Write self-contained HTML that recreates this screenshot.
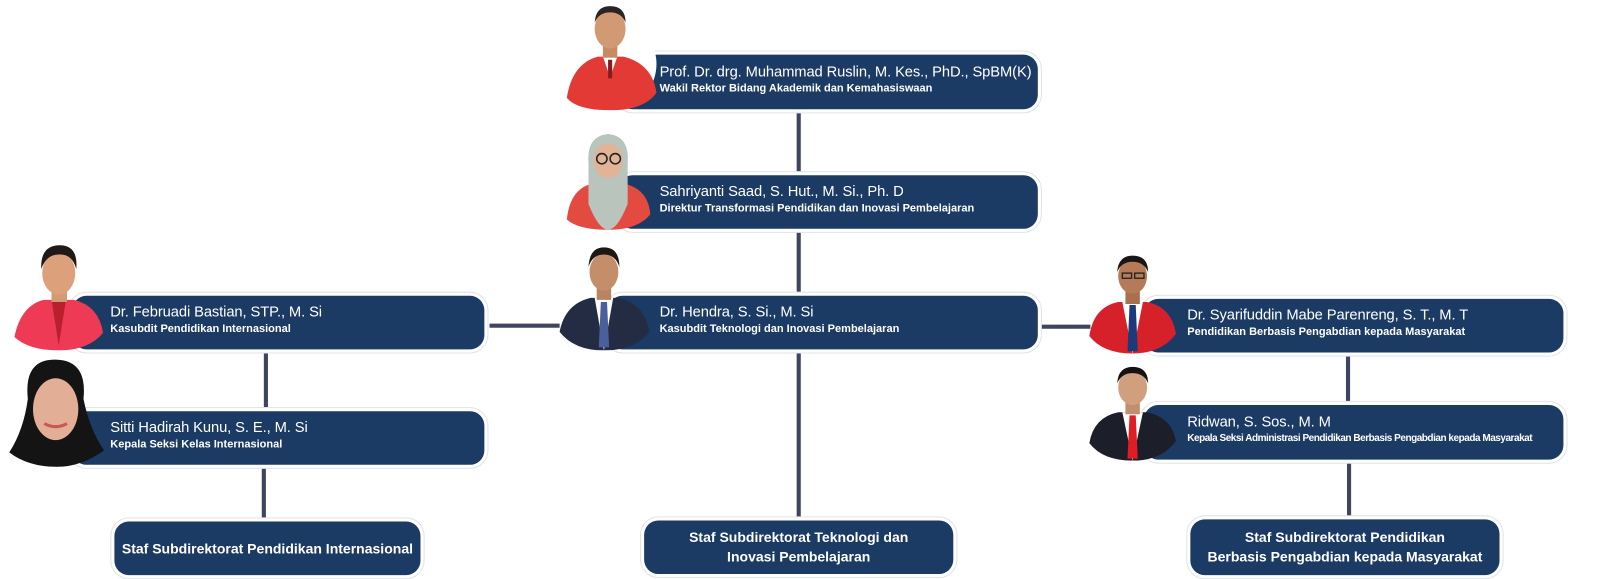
<!DOCTYPE html>
<html><head><meta charset="utf-8"><style>
html,body{margin:0;padding:0;background:#fff;width:1616px;height:579px;overflow:hidden}
#w{position:absolute;left:0;top:0;width:1568px;height:562px;transform:scale(1.0306);transform-origin:0 0;font-family:"Liberation Sans",sans-serif}
.b{position:absolute;background:#1b3a64;border-radius:14px;box-shadow:0 0 0 3px #fff,0 0 0 4px #dfe3ea;color:#fff}
.n{position:absolute;font-size:14.3px;white-space:nowrap;letter-spacing:-0.1px}
.r{position:absolute;font-size:10.7px;font-weight:bold;white-space:nowrap;letter-spacing:0px}
.s{display:flex;align-items:center;justify-content:center;text-align:center;font-weight:bold;font-size:13.6px;line-height:19px}
.l{position:absolute;background:#3f4460}
svg.p{position:absolute}
</style></head><body><div id="w">
<div class="l" style="left:773px;top:106px;width:4px;height:64px"></div>
<div class="l" style="left:773px;top:222px;width:4px;height:65px"></div>
<div class="l" style="left:773px;top:339px;width:4px;height:164px"></div>
<div class="l" style="left:475px;top:314px;width:68px;height:4px"></div>
<div class="l" style="left:1008px;top:315px;width:50px;height:4px"></div>
<div class="l" style="left:256px;top:341px;width:4px;height:54px"></div>
<div class="l" style="left:254px;top:453px;width:4px;height:52px"></div>
<div class="l" style="left:1306px;top:345px;width:4px;height:46px"></div>
<div class="l" style="left:1307px;top:449px;width:4px;height:54px"></div>

<div class="b" style="left:600px;top:53px;width:407px;height:53px"><div class="n" style="left:40px;top:9px">Prof. Dr. drg. Muhammad Ruslin, M. Kes., PhD., SpBM(K)</div><div class="r" style="left:40px;top:27px">Wakil Rektor Bidang Akademik dan Kemahasiswaan</div></div>
<div class="b" style="left:600px;top:170px;width:407px;height:52px"><div class="n" style="left:40px;top:8px">Sahriyanti Saad, S. Hut., M. Si., Ph. D</div><div class="r" style="left:40px;top:26px">Direktur Transformasi Pendidikan dan Inovasi Pembelajaran</div></div>
<div class="b" style="left:590px;top:287px;width:417px;height:52px"><div class="n" style="left:50px;top:8px">Dr. Hendra, S. Si., M. Si</div><div class="r" style="left:50px;top:26px">Kasubdit Teknologi dan Inovasi Pembelajaran</div></div>
<div class="b" style="left:70px;top:287px;width:400px;height:52px"><div class="n" style="left:37px;top:8px">Dr. Februadi Bastian, STP., M. Si</div><div class="r" style="left:37px;top:26px">Kasubdit Pendidikan Internasional</div></div>
<div class="b" style="left:70px;top:399px;width:400px;height:52px"><div class="n" style="left:37px;top:8px">Sitti Hadirah Kunu, S. E., M. Si</div><div class="r" style="left:37px;top:26px">Kepala Seksi Kelas Internasional</div></div>
<div class="b" style="left:1110px;top:290px;width:407px;height:52px"><div class="n" style="left:42px;top:8px">Dr. Syarifuddin Mabe Parenreng, S. T., M. T</div><div class="r" style="left:42px;top:26px">Pendidikan Berbasis Pengabdian kepada Masyarakat</div></div>
<div class="b" style="left:1110px;top:393px;width:407px;height:53px"><div class="n" style="left:42px;top:9px">Ridwan, S. Sos., M. M</div><div class="r" style="left:42px;top:27px;font-size:9.7px;letter-spacing:-0.45px">Kepala Seksi Administrasi Pendidikan Berbasis Pengabdian kepada Masyarakat</div></div>
<div class="b s" style="left:111px;top:506px;width:297px;height:52px">Staf Subdirektorat Pendidikan Internasional</div>
<div class="b s" style="left:625px;top:505px;width:300px;height:52px">Staf Subdirektorat Teknologi dan<br>Inovasi Pembelajaran</div>
<div class="b s" style="left:1155px;top:504px;width:300px;height:54px">Staf Subdirektorat Pendidikan<br>Berbasis Pengabdian kepada Masyarakat</div>

<svg class="p" style="left:545px;top:0px" width="95" height="107" viewBox="0 0 95 107">
<circle cx="47" cy="62" r="45" fill="#fff"/>
<path d="M5 95 Q10 62 35 55 L60 55 Q88 62 92 90 Q80 107 47 107 Q15 107 5 95Z" fill="#e33a36"/>
<path d="M40 55 L47 75 L54 55Z" fill="#fff"/><rect x="45" y="58" width="4" height="18" fill="#8a1a22"/>
<rect x="40" y="42" width="14" height="14" fill="#c88a65"/>
<ellipse cx="47" cy="28" rx="15" ry="19" fill="#d29a74"/><path d="M32 22 Q33 6 47 6 Q62 6 62 22 Q58 12 47 12 Q36 12 32 22Z" fill="#2a2422"/>
</svg>
<svg class="p" style="left:547px;top:128px" width="86" height="95" viewBox="0 0 86 95">
<path d="M3 85 Q6 55 28 50 L58 50 Q82 55 84 80 Q72 95 43 95 Q14 95 3 85Z" fill="#e34a40"/>
<path d="M24 30 Q22 4 43 2 Q64 4 62 30 L62 70 Q52 95 43 95 Q34 95 24 70Z" fill="#b8c4bc"/>
<ellipse cx="43" cy="28" rx="14" ry="17" fill="#e2b396"/>
<circle cx="37" cy="26" r="5" fill="none" stroke="#222" stroke-width="1.5"/><circle cx="50" cy="26" r="5" fill="none" stroke="#222" stroke-width="1.5"/>
</svg>
<svg class="p" style="left:540px;top:237px" width="93" height="103" viewBox="0 0 93 103">
<path d="M3 85 Q8 58 33 52 L60 52 Q86 58 90 85 Q76 103 46 103 Q17 103 3 85Z" fill="#242c44"/>
<path d="M37 52 L46 103 L55 52Z" fill="#fff"/><path d="M43 56 L49 56 L51 100 L41 100Z" fill="#4b5f9a"/>
<rect x="39" y="40" width="14" height="14" fill="#b98460"/>
<ellipse cx="46" cy="27" rx="14" ry="18" fill="#c48e6a"/><path d="M31 22 Q32 3 46 3 Q61 3 61 22 Q57 10 46 10 Q35 10 31 22Z" fill="#1b1816"/>
</svg>
<svg class="p" style="left:12px;top:235px" width="90" height="105" viewBox="0 0 90 105">
<path d="M2 92 Q8 62 30 56 L60 56 Q84 62 88 88 Q74 105 45 105 Q16 105 2 92Z" fill="#ee3a55"/>
<path d="M38 56 L45 100 L52 56Z" fill="#b8202e"/>
<rect x="38" y="42" width="15" height="16" fill="#d49a72"/>
<ellipse cx="45" cy="30" rx="16" ry="21" fill="#dca07a"/><path d="M28 26 Q27 3 46 3 Q64 3 62 26 Q58 11 45 12 Q33 12 28 26Z" fill="#1f1a18"/>
</svg>
<svg class="p" style="left:7px;top:347px" width="95" height="106" viewBox="0 0 95 106">
<path d="M20 40 Q16 2 46 2 Q78 2 74 40 Q80 70 94 90 Q72 106 48 106 Q20 106 2 92 Q16 70 20 40Z" fill="#141414"/>
<ellipse cx="47" cy="50" rx="22" ry="30" fill="#e2ae96"/>
<path d="M36 64 Q47 70 58 64" stroke="#c55" stroke-width="3" fill="none"/>
</svg>
<svg class="p" style="left:1055px;top:246px" width="88" height="97" viewBox="0 0 88 97">
<path d="M2 80 Q6 52 30 47 L58 47 Q82 52 86 78 Q72 97 44 97 Q15 97 2 80Z" fill="#d6202a"/>
<path d="M34 47 L44 97 L54 47Z" fill="#fff"/><path d="M41 50 L47 50 L49 95 L39 95Z" fill="#1c3a7a"/>
<rect x="37" y="35" width="14" height="14" fill="#a87050"/>
<ellipse cx="44" cy="22" rx="14" ry="17" fill="#b57b58"/><path d="M29 18 Q30 2 44 2 Q59 2 59 18 Q55 8 44 8 Q33 8 29 18Z" fill="#1a1614"/>
<rect x="34" y="19" width="9" height="5" fill="none" stroke="#222" stroke-width="1.3"/><rect x="46" y="19" width="9" height="5" fill="none" stroke="#222" stroke-width="1.3"/>
</svg>
<svg class="p" style="left:1055px;top:355px" width="88" height="92" viewBox="0 0 88 92">
<path d="M2 75 Q6 50 30 45 L58 45 Q82 50 86 73 Q72 92 44 92 Q15 92 2 75Z" fill="#1c1f2a"/>
<path d="M34 45 L44 92 L54 45Z" fill="#fff"/><path d="M41 48 L47 48 L49 90 L39 90Z" fill="#e01c24"/>
<rect x="37" y="33" width="14" height="14" fill="#c0906e"/>
<ellipse cx="44" cy="21" rx="14" ry="17" fill="#d0a07e"/><path d="M29 17 Q30 1 44 1 Q59 1 59 17 Q55 7 44 7 Q33 7 29 17Z" fill="#141210"/>
</svg>
</div></body></html>
